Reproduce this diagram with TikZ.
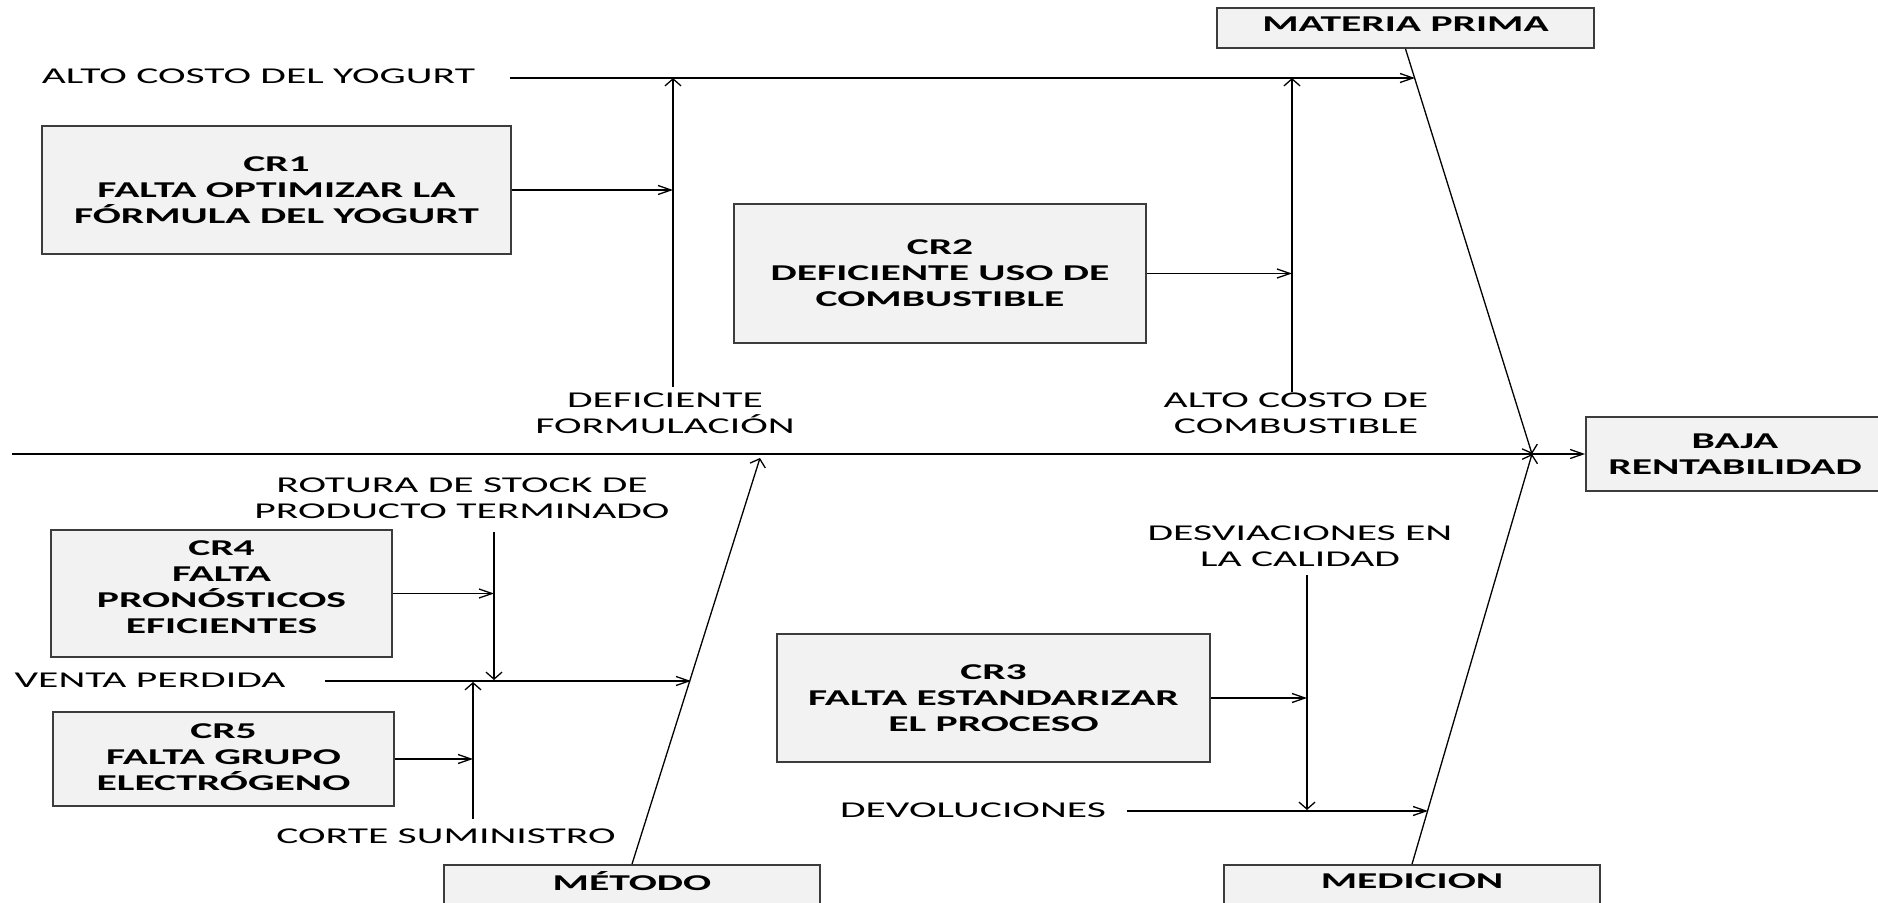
\documentclass[tikz,border=0pt]{standalone}
\usepackage{fontspec}
\setmainfont[FakeStretch=1.84]{Carlito}
\usetikzlibrary{arrows.meta,calc}
\definecolor{boxfill}{RGB}{242,242,242}
\definecolor{boxline}{RGB}{60,60,60}
\begin{document}
\begin{tikzpicture}[x=0.5pt,y=-0.5pt,
  box/.style={draw=boxline, fill=boxfill, line width=0.9pt, inner sep=0pt,
              align=center, font=\bfseries\fontsize{11.3}{13}\selectfont},
  lbl/.style={inner sep=0pt, align=center, font=\fontsize{11.3}{13}\selectfont},
  conn/.style={line width=0.65pt, line cap=butt},
  harrow/.style={conn, -{Straight Barb[length=6.5pt,width=4.5pt]}},
  varrow/.style={conn, -{Straight Barb[length=3.5pt,width=8pt]}}]
\useasboundingbox (0,0) rectangle (1878,903);
\clip (0,0) rectangle (1878,903);

% category and effect boxes
\node[box, minimum width=188.5pt, minimum height=20pt, text depth=4pt] (mp) at (1405.5,28) {MATERIA PRIMA};
\node[box, minimum width=149pt,   minimum height=37pt] (baja) at (1735,454) {BAJA\\RENTABILIDAD};
\node[box, minimum width=188pt,   minimum height=20pt, text depth=4pt] (met) at (632,885) {MÉTODO};
\node[box, minimum width=188pt,   minimum height=20pt, text depth=4pt] (med) at (1412,885) {MEDICION};

% root cause boxes
\node[box, minimum width=234.5pt, minimum height=64pt]   (cr1) at (276.5,190) {CR1\\FALTA OPTIMIZAR LA\\FÓRMULA DEL YOGURT};
\node[box, minimum width=206pt,   minimum height=69.5pt] (cr2) at (940,273.5) {CR2\\DEFICIENTE USO DE\\COMBUSTIBLE};
\node[box, minimum width=216.5pt, minimum height=64pt]   (cr3) at (993.5,698) {CR3\\FALTA ESTANDARIZAR\\EL PROCESO};
\node[box, minimum width=170.5pt, minimum height=63.5pt, text depth=6pt] (cr4) at (221.5,593.5) {CR4\\FALTA\\PRONÓSTICOS\\EFICIENTES};
\node[box, minimum width=170.5pt, minimum height=47pt, text depth=2pt]   (cr5) at (223.5,759) {CR5\\FALTA GRUPO\\ELECTRÓGENO};

% cause labels
\node[lbl] (alto)   at (258.5,76) {ALTO COSTO DEL YOGURT};
\node[lbl] (defic)  at (665,413)  {DEFICIENTE\\FORMULACIÓN};
\node[lbl] (comb)   at (1296,413) {ALTO COSTO DE\\COMBUSTIBLE};
\node[lbl] (rotura) at (462,498)  {ROTURA DE STOCK DE\\PRODUCTO TERMINADO};
\node[lbl] (venta)  at (150,680)  {VENTA PERDIDA};
\node[lbl] (corte)  at (446,836)  {CORTE SUMINISTRO};
\node[lbl] (desv)   at (1300,546) {DESVIACIONES EN\\LA CALIDAD};
\node[lbl] (devol)  at (973,810)  {DEVOLUCIONES};

% junctions and free ends
\coordinate (spine0) at (12,454);
\coordinate (j)      at (1532,454);
\coordinate (mj)     at (760,458);
\coordinate (a0)     at (510,78);
\coordinate (a1)     at (1415,78);
\coordinate (v1b)    at (673,387);
\coordinate (v1t)    at (673,78);
\coordinate (v2b)    at (1292,392);
\coordinate (v2t)    at (1292,78);
\coordinate (vp0)    at (325,681);
\coordinate (vp1)    at (691,681);
\coordinate (v3t)    at (494,532);
\coordinate (v3b)    at (494,680);
\coordinate (v4b)    at (473,819);
\coordinate (v4t)    at (473,682);
\coordinate (dv0)    at (1127,811);
\coordinate (dv1)    at (1428,811);
\coordinate (v5t)    at (1307,575);
\coordinate (v5b)    at (1307,810);

% spine and main bones
\draw[harrow] (spine0) -- (baja.west);
\draw[varrow] (mp.south) -- (j);
\draw[varrow] (med.north) -- (j);
\draw[varrow] (met.north) -- (mj);

% MATERIA PRIMA branch
\draw[harrow] (a0) -- (a1);
\draw[varrow] (v1b) -- (v1t);
\draw[harrow] (cr1.east) -- (cr1.east -| v1t);
\draw[varrow] (v2b) -- (v2t);
\draw[harrow] (cr2.east) -- (cr2.east -| v2t);

% MÉTODO branch
\draw[harrow] (vp0) -- (vp1);
\draw[varrow] (v3t) -- (v3b);
\draw[harrow] (cr4.east) -- (cr4.east -| v3t);
\draw[varrow] (v4b) -- (v4t);
\draw[harrow] (cr5.east) -- (cr5.east -| v4t);

% MEDICION branch
\draw[harrow] (dv0) -- (dv1);
\draw[varrow] (v5t) -- (v5b);
\draw[harrow] (cr3.east) -- (cr3.east -| v5t);
\end{tikzpicture}
\end{document}
